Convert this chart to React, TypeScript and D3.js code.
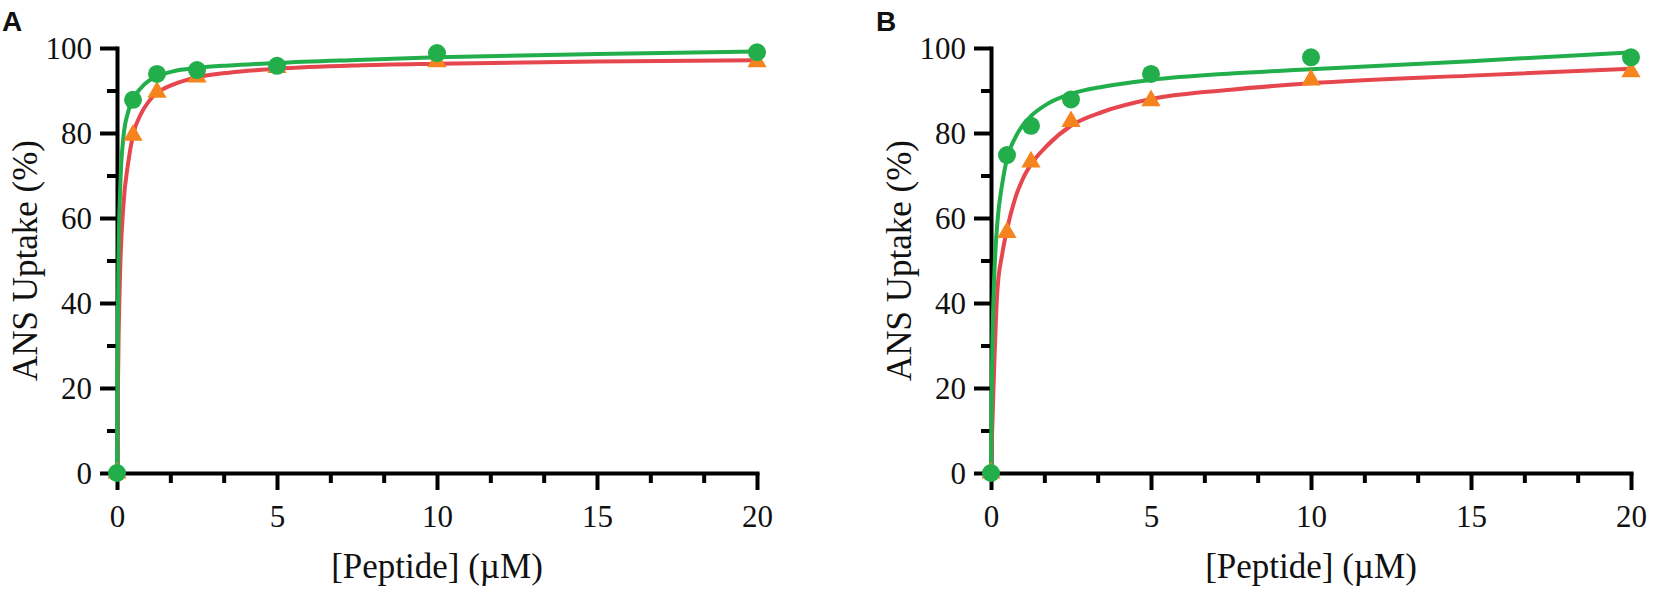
import * as d3 from "d3";
import { useEffect, useRef } from "react";

// measured concentrations (µM)
const concentrations = [0, 0.5, 1.25, 2.5, 5, 10, 20];

// panel A points
const aCircles = [0, 87.8, 93.9, 94.8, 95.8, 98.8, 99];
const aTriangles = [0, 79.5, 89.6, 93.2, 95.4, 96.8, 96.8];

// panel B points
const bCircles = [0, 74.8, 81.7, 87.9, 93.9, 97.8, 97.8];
const bTriangles = [0, 56.6, 73.2, 82.7, 87.6, 92.5, 94.4];

// fitted curves
const curveX = [0, 0.02, 0.05, 0.1, 0.2, 0.35, 0.5, 0.75, 1, 1.25, 1.75, 2.5, 3.5, 5, 7.5, 10, 15, 20];
const aGreenFit = [0, 30, 52, 67, 79, 85, 88, 90.6, 92.3, 93.3, 94.5, 95.3, 95.9, 96.5, 97.2, 97.8, 98.6, 99.2];
const aRedFit = [0, 15, 32, 48, 63, 73, 79.5, 84.5, 87.5, 89.4, 91.4, 93.1, 94.2, 95.1, 95.9, 96.3, 96.8, 97.1];
const bGreenFit = [0, 18, 33, 46, 59, 68, 74, 78.8, 81.9, 84, 86.8, 89.2, 90.9, 92.5, 94, 95, 96.9, 99];
const bRedFit = [0, 6, 13, 25, 43, 51.5, 57.3, 64.5, 69.3, 72.6, 77, 81.7, 85, 88, 90.2, 91.7, 93.5, 95.1];

const xTicks = [0, 5, 10, 15, 20];
const xMinorTicks = [5 / 3, 10 / 3, 20 / 3, 25 / 3, 35 / 3, 40 / 3, 50 / 3, 55 / 3];
const yTicks = [0, 20, 40, 60, 80, 100];
const yMinorTicks = [10, 30, 50, 70, 90];

const GREEN = "#22ae4b";
const RED = "#e6474f";
const ORANGE = "#f5841f";
const SERIF = "'Liberation Serif', 'Times New Roman', serif";

const panels = [
    { label: "A", left: 117, circles: aCircles, triangles: aTriangles, greenFit: aGreenFit, redFit: aRedFit },
    { label: "B", left: 991, circles: bCircles, triangles: bTriangles, greenFit: bGreenFit, redFit: bRedFit },
];

export default function App() {
    const ref = useRef<SVGSVGElement | null>(null);

    useEffect(() => {
        if (!ref.current) return;
        const svg = d3.select(ref.current);
        svg.selectAll("*").remove();

        const top = 48;
        const bottom = 473;
        const plotWidth = 640;

        for (const p of panels) {
            const x = d3.scaleLinear().domain([0, 20]).range([p.left, p.left + plotWidth]);
            const y = d3.scaleLinear().domain([0, 100]).range([bottom, top]);
            const g = svg.append("g");

            const styleAxis = (sel: d3.Selection<SVGGElement, unknown, null, undefined>) => {
                sel.select(".domain").attr("stroke-width", 4).attr("stroke-linecap", "square");
                sel.selectAll(".tick line").attr("stroke-width", 4);
                sel.selectAll(".tick text")
                    .attr("font-family", SERIF)
                    .attr("font-size", 31)
                    .attr("fill", "#111");
            };

            // minor ticks first
            g.append("g")
                .attr("transform", `translate(0,${bottom})`)
                .call(d3.axisBottom(x).tickValues(xMinorTicks).tickSize(10).tickSizeOuter(0).tickFormat(() => ""))
                .call((s) => s.select(".domain").remove())
                .call((s) => s.selectAll(".tick line").attr("stroke-width", 4));
            g.append("g")
                .attr("transform", `translate(${p.left},0)`)
                .call(d3.axisLeft(y).tickValues(yMinorTicks).tickSize(10).tickSizeOuter(0).tickFormat(() => ""))
                .call((s) => s.select(".domain").remove())
                .call((s) => s.selectAll(".tick line").attr("stroke-width", 4));

            const xAxis = g.append("g")
                .attr("transform", `translate(0,${bottom})`)
                .call(d3.axisBottom(x).tickValues(xTicks).tickSize(17).tickSizeOuter(0).tickPadding(10));
            styleAxis(xAxis);
            xAxis.selectAll(".tick text").attr("dy", null).attr("y", 54);

            const yAxis = g.append("g")
                .attr("transform", `translate(${p.left},0)`)
                .call(d3.axisLeft(y).tickValues(yTicks).tickSize(17).tickSizeOuter(0).tickPadding(8));
            styleAxis(yAxis);
            yAxis.selectAll(".tick text").attr("dy", "0.34em");

            // fitted curves
            const line = d3.line<number>()
                .x((_, i) => x(curveX[i]))
                .y((d) => y(d))
                .curve(d3.curveMonotoneX);
            g.append("path").datum(p.redFit)
                .attr("fill", "none").attr("stroke", RED).attr("stroke-width", 4).attr("d", line);
            g.append("path").datum(p.greenFit)
                .attr("fill", "none").attr("stroke", GREEN).attr("stroke-width", 4).attr("d", line);

            const tri = d3.symbol().type(d3.symbolTriangle).size(160);
            g.selectAll(".tri").data(p.triangles).join("path")
                .attr("class", "tri")
                .attr("transform", (d, i) => `translate(${x(concentrations[i])},${y(d)})`)
                .attr("d", tri()!)
                .attr("fill", ORANGE);
            g.selectAll(".dot").data(p.circles).join("circle")
                .attr("class", "dot")
                .attr("cx", (_, i) => x(concentrations[i]))
                .attr("cy", (d) => y(d))
                .attr("r", 9)
                .attr("fill", GREEN);

            // axis titles
            g.append("text")
                .attr("x", p.left + plotWidth / 2)
                .attr("y", 578)
                .attr("text-anchor", "middle")
                .attr("font-family", SERIF)
                .attr("font-size", 35)
                .attr("fill", "#111")
                .text("[Peptide] (µM)");
            g.append("text")
                .attr("transform", `translate(${p.left - 80},${(top + bottom) / 2}) rotate(-90)`)
                .attr("text-anchor", "middle")
                .attr("font-family", SERIF)
                .attr("font-size", 35)
                .attr("fill", "#111")
                .text("ANS Uptake (%)");

            g.append("text")
                .attr("x", p.left - 115)
                .attr("y", 31)
                .attr("font-family", "'Liberation Sans', Arial, sans-serif")
                .attr("font-weight", "bold")
                .attr("font-size", 28)
                .attr("fill", "#111")
                .text(p.label);
        }
    }, []);

    return (
        <svg
            ref={ref}
            width={1654}
            height={592}
            style={{ position: "absolute", left: 0, top: 0, background: "#fff" }}
        ></svg>
    );
}
